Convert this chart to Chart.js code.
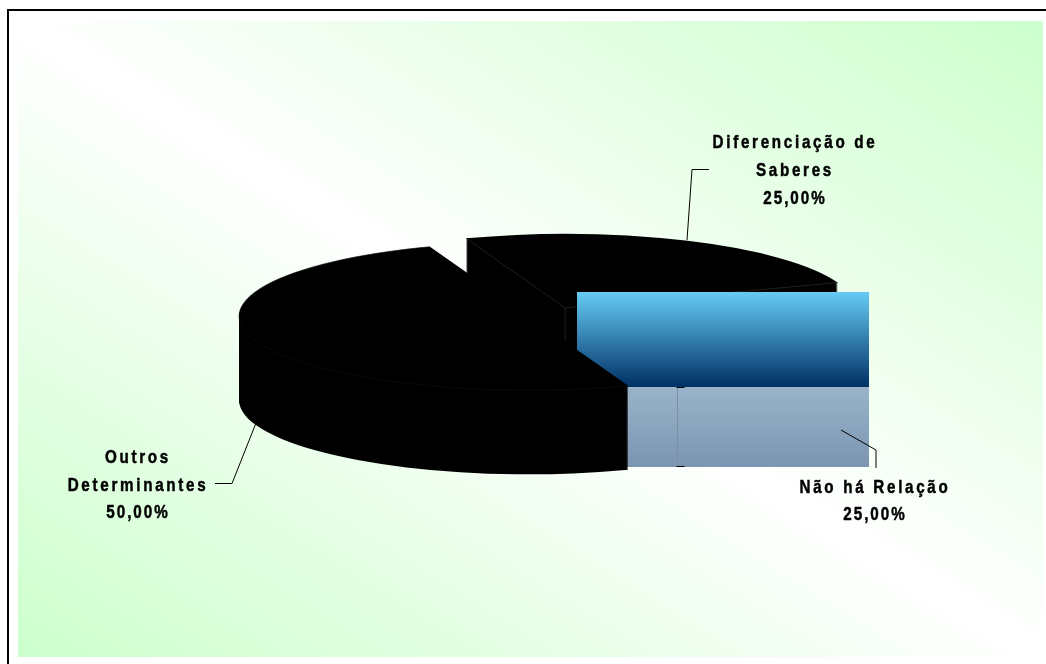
<!DOCTYPE html>
<html>
<head>
<meta charset="utf-8">
<title>Relação</title>
<script src="https://cdn.jsdelivr.net/npm/chart.js@4/dist/chart.umd.js"></script>
<style>
  html, body { margin: 0; padding: 0; background: #fff; }
  #wrap { position: relative; width: 1046px; height: 664px; overflow: hidden; }
  #frame { position: absolute; left: 7px; top: 9px; width: 1039px; height: 655px; border: solid #000; border-width: 2px 0 0 2px; }
  #panel { position: absolute; left: 18px; top: 21px; width: 1025px; height: 636px;
    background: linear-gradient(to top right, #ccffcc, #ffffff 50%, #ccffcc); }
  canvas { position: absolute; left: 0; top: 0; }
</style>
</head>
<body>
<div id="wrap">
  <div id="frame"></div>
  <div id="panel"></div>
  <canvas id="pie" width="1046" height="664"></canvas>
</div>
<script>
const categories = ['Diferenciação de Saberes', 'Não há Relação', 'Outros Determinantes'];
const shares = [25, 25, 50];
const shareLabels = ['25,00%', '25,00%', '50,00%'];

const SQUASH = 74 / 290;   // tilt of the disc
const DEPTH = 84;          // height of the side wall
const EXPLODE = 26.5;      // how far each slice is pulled out
const EDGE = '#2b2b2b';
const FONT = 'bold 19px "Liberation Sans", sans-serif';
const TEXT_SQUEEZE = 0.8;

// text blocks: centre x, baseline of each line
const labelBlocks = [
  { x: 795, lines: [['Diferenciação de', 148], ['Saberes', 176], [shareLabels[0], 204]] },
  { x: 875, lines: [['Não há Relação', 493], [shareLabels[1], 520]] },
  { x: 138, lines: [['Outros', 463], ['Determinantes', 491], [shareLabels[2], 518]] },
];
const leaders = [
  [[709, 169.5], [692, 169.5], [687, 240]],
  [[841, 430], [876, 450], [876, 468]],
  [[215, 483.5], [232, 483.5], [256, 423]],
];

function sliceFrame(arc) {
  const mid = (arc.startAngle + arc.endAngle) / 2;
  const cx = arc.x + Math.cos(mid) * EXPLODE;
  const cy = arc.y + Math.sin(mid) * EXPLODE * SQUASH;
  const rimX = a => cx + Math.cos(a) * arc.outerRadius;
  const rimY = a => cy + Math.sin(a) * arc.outerRadius * SQUASH;
  return { cx, cy, rimX, rimY };
}

function drawExtruded(ctx, arc) {
  const mid = (arc.startAngle + arc.endAngle) / 2;
  for (let d = DEPTH; d >= 0; d--) {
    ctx.save();
    ctx.translate(0, arc.y + d);
    ctx.scale(1, SQUASH);
    ctx.translate(0, -arc.y);
    ctx.translate(Math.cos(mid) * EXPLODE, Math.sin(mid) * EXPLODE);
    arc.draw(ctx);
    ctx.restore();
  }
}

// the middle slice comes out as its bounding box, filled with a gradient
function drawBoxSlice(ctx, arc) {
  const f = sliceFrame(arc);
  const left = Math.round(f.cx) - 1;
  const right = Math.round(f.cx + arc.outerRadius) + 1;
  const top = Math.round(f.rimY(arc.startAngle));
  const bottom = Math.round(f.rimY(arc.endAngle)) + 1;
  const topFill = ctx.createLinearGradient(0, top, 0, bottom);
  topFill.addColorStop(0, '#66ccf5');
  topFill.addColorStop(1, '#003064');
  ctx.fillStyle = topFill;
  ctx.fillRect(left, top, right - left, bottom - top);

  const wallFill = ctx.createLinearGradient(0, bottom, 0, bottom + 80);
  wallFill.addColorStop(0, '#99b4c9');
  wallFill.addColorStop(1, '#7b95b2');
  ctx.fillStyle = wallFill;
  ctx.fillRect(left, bottom, right - left, 80);

  // seam where the cut face meets the wall
  const seam = Math.round(f.rimX(arc.endAngle)) + 0.5;
  ctx.strokeStyle = '#7a90a6';
  ctx.lineWidth = 1;
  ctx.beginPath();
  ctx.moveTo(seam, bottom);
  ctx.lineTo(seam, bottom + 80);
  ctx.stroke();
  ctx.strokeStyle = '#000';
  ctx.beginPath();
  ctx.moveTo(seam - 1, bottom + 0.5);
  ctx.lineTo(seam + 7, bottom + 0.5);
  ctx.moveTo(seam - 1, bottom + 79.5);
  ctx.lineTo(seam + 7, bottom + 79.5);
  ctx.stroke();
}

const pie3d = {
  id: 'pie3d',
  beforeDatasetsDraw(chart) {
    const ctx = chart.ctx;
    const arcs = chart.getDatasetMeta(0).data;
    arcs.forEach((arc, i) => {
      if (i === 1) {
        drawBoxSlice(ctx, arc);
        return;
      }
      drawExtruded(ctx, arc);
      const f = sliceFrame(arc);
      ctx.lineWidth = 0.7;
      ctx.beginPath();
      if (i === 0) {
        // cut faces of the back slice
        ctx.strokeStyle = EDGE;
        ctx.moveTo(f.rimX(arc.startAngle), f.rimY(arc.startAngle));
        ctx.lineTo(f.cx, f.cy);
        ctx.lineTo(f.rimX(arc.endAngle), f.rimY(arc.endAngle));
        ctx.moveTo(f.cx, f.cy);
        ctx.lineTo(f.cx, f.cy + DEPTH);
      } else {
        // faint rim on the big slice
        ctx.strokeStyle = '#0e0e0e';
        ctx.ellipse(f.cx, f.cy, arc.outerRadius, arc.outerRadius * SQUASH, 0, arc.startAngle, arc.endAngle);
      }
      ctx.stroke();
    });
    return false;
  },
  afterDraw(chart) {
    const ctx = chart.ctx;
    ctx.save();
    ctx.strokeStyle = '#000';
    ctx.lineWidth = 1;
    leaders.forEach(pts => {
      ctx.beginPath();
      pts.forEach((p, i) => i ? ctx.lineTo(p[0], p[1]) : ctx.moveTo(p[0], p[1]));
      ctx.stroke();
    });
    ctx.fillStyle = '#000';
    ctx.font = FONT;
    ctx.textAlign = 'center';
    ctx.lineWidth = 0.5;
    labelBlocks.forEach(b => b.lines.forEach(l => {
      const gap = l[0].endsWith('%') ? 2 : 2.7;
      ctx.save();
      ctx.letterSpacing = (gap / TEXT_SQUEEZE) + 'px';
      ctx.translate(b.x, l[1]);
      ctx.scale(TEXT_SQUEEZE, 1);
      ctx.fillText(l[0], 0, 0);
      ctx.strokeText(l[0], 0, 0);  // the labels are heavier than plain bold
      ctx.restore();
    }));
    ctx.restore();
  },
};

new Chart(document.getElementById('pie'), {
  type: 'pie',
  data: {
    labels: categories,
    datasets: [{ data: shares, backgroundColor: '#000', borderWidth: 0 }],
  },
  options: {
    responsive: false,
    animation: false,
    rotation: -20,
    radius: 290,
    layout: { padding: { left: 62, bottom: 36 } },
    plugins: { legend: { display: false }, tooltip: { enabled: false } },
  },
  plugins: [pie3d],
});
</script>
</body>
</html>
